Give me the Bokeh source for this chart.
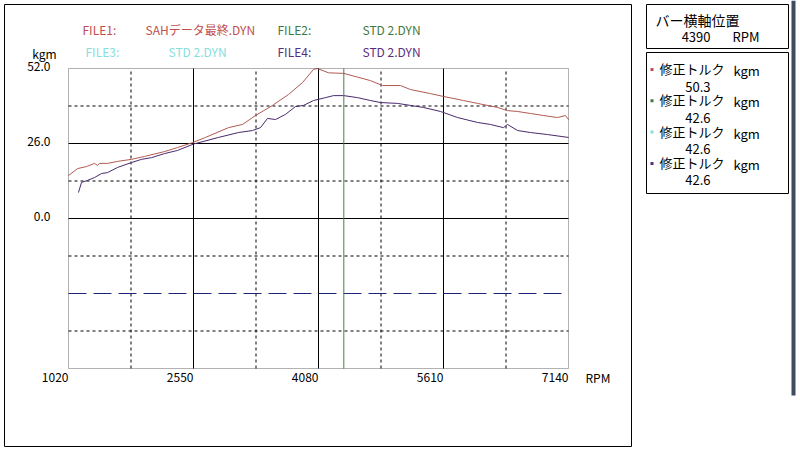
from bokeh.plotting import figure
from bokeh.models import Range1d, Label, BoxAnnotation
from bokeh.core.properties import value
from bokeh.embed import file_html
from bokeh.resources import INLINE

# ---------------- data ----------------
rpm_file1 = [1020, 1130, 1240, 1338, 1375, 1399, 1497, 1620, 1791, 1950, 2195, 2354, 2538,
             2697, 2978, 3150, 3309, 3517, 3713, 3884, 4019, 4068, 4203, 4390, 4716, 4863,
             5084, 5206, 5451, 5610, 5855, 6026, 6271, 6393, 6516, 6675, 6834, 7006, 7103, 7140]
trq_file1 = [14.9, 17.3, 18.0, 19.1, 18.4, 19.1, 19.1, 19.8, 20.5, 21.5, 23.2, 24.6, 26.3,
             28.1, 31.5, 32.6, 35.7, 39.2, 43.0, 47.1, 51.7, 52.0, 50.5, 50.3, 47.8, 46.1,
             46.1, 44.7, 43.3, 42.3, 40.9, 39.9, 38.5, 37.4, 37.1, 36.4, 35.7, 35.0, 35.7, 34.3]

rpm_file4 = [1142, 1179, 1253, 1338, 1424, 1497, 1620, 1791, 1914, 2036, 2195, 2354, 2550,
             2856, 3101, 3272, 3370, 3456, 3554, 3676, 3798, 3896, 4019, 4166, 4264, 4390,
             4557, 4716, 4839, 5047, 5206, 5365, 5573, 5782, 6026, 6185, 6344, 6393, 6516,
             6675, 6883, 7140]
trq_file4 = [9.0, 12.5, 13.2, 14.2, 15.6, 15.9, 17.7, 19.4, 20.5, 21.1, 22.5, 23.6, 25.8,
             28.1, 29.8, 30.5, 31.5, 34.7, 34.3, 36.1, 38.8, 39.2, 40.9, 41.9, 42.6, 42.6,
             41.9, 40.9, 40.2, 39.9, 39.2, 38.5, 37.1, 35.0, 33.3, 32.6, 31.5, 32.6, 30.5,
             29.8, 29.1, 28.1]

x_ticks = [1020, 2550, 4080, 5610, 7140]
x_grid_solid = [2550, 4080, 5610]
x_grid_dash = [1785, 3315, 4845, 6375]
y_ticks = [52, 26, 0]
y_tick_labels = ["52.0", "26.0", "0.0"]
y_grid_solid = [26, 0]
y_grid_dash = [39, 13, -13, -39]
ref_level = -26
cursor_rpm = 4390

file_labels = ["FILE1:", "FILE2:", "FILE3:", "FILE4:"]
file_names = ["SAHデータ最終.DYN", "STD  2.DYN", "STD  2.DYN", "STD  2.DYN"]
readout_name = "修正トルク"
readout_unit = "kgm"
readout_values = ["50.3", "42.6", "42.6", "42.6"]

# ---------------- styles ----------------
FONT = "Noto Sans CJK JP"
C_RED = "#c0504d"
C_RED_LINE = "#b25a52"
C_GREEN = "#3f7a3f"
C_CYAN = "#86dede"
C_PURPLE = "#5b2e80"
C_PURPLE_LINE = "#4a2a6c"
file_colors = [C_RED, C_GREEN, C_CYAN, C_PURPLE]

W, H = 800, 458
X0, X1, Y0, Y1 = 1020, 7140, -52, 52
FL, FT, FW, FH = 68, 68, 500, 300   # chart box position on the page (px)
KX = (X1 - X0) / FW
KY = (Y1 - Y0) / FH


def px(page_x):   # page pixel -> data x
    return X0 + (page_x - FL) * KX


def py(page_y):   # page pixel -> data y
    return Y1 - (page_y - FT) * KY


p = figure(width=W, height=H, output_backend="svg", toolbar_location=None,
           x_range=Range1d(px(0), px(W)), y_range=Range1d(py(H), py(0)),
           min_border=0, min_border_left=0, min_border_right=0,
           min_border_top=0, min_border_bottom=0)
p.axis.visible = False
p.grid.visible = False
p.outline_line_color = None
p.background_fill_color = "white"
p.border_fill_color = "white"

# ---- grid (inside the chart box only) ----
p.segment(x0=x_grid_solid, x1=x_grid_solid, y0=[Y0] * len(x_grid_solid), y1=[Y1] * len(x_grid_solid),
          line_color="black", line_width=1)
p.segment(x0=[X0] * len(y_grid_solid), x1=[X1] * len(y_grid_solid), y0=y_grid_solid, y1=y_grid_solid,
          line_color="black", line_width=1)
p.segment(x0=x_grid_dash, x1=x_grid_dash, y0=[Y0] * len(x_grid_dash), y1=[Y1] * len(x_grid_dash),
          line_color="black", line_width=1, line_dash="3 3")
p.segment(x0=[X0] * len(y_grid_dash), x1=[X1] * len(y_grid_dash), y0=y_grid_dash, y1=y_grid_dash,
          line_color="black", line_width=1, line_dash="3 3")
p.segment(x0=[X0], x1=[X1], y0=[ref_level], y1=[ref_level],
          line_color="#1c2478", line_width=1, line_dash="18 7")

# ---- curves ----
p.line(rpm_file1, trq_file1, line_color=C_RED_LINE, line_width=1)
p.line(rpm_file4, trq_file4, line_color=C_PURPLE_LINE, line_width=1)

# ---- cursor ----
p.segment(x0=[cursor_rpm], x1=[cursor_rpm], y0=[Y0], y1=[Y1], line_color="#4d7d4d", line_width=1)

# ---- chart box outline ----
p.add_layout(BoxAnnotation(left=X0, right=X1, bottom=Y0, top=Y1, fill_alpha=0,
                           line_color="black", line_width=1))

# ---- tick labels ----
p.text(x=x_ticks, y=[py(377)] * len(x_ticks), text=[str(t) for t in x_ticks],
       text_font=value(FONT), text_font_size="12px", text_color="black",
       text_align="right", text_baseline="middle")
p.text(x=[px(50)] * len(y_ticks), y=y_ticks, text=y_tick_labels,
       text_font=value(FONT), text_font_size="12px", text_color="black",
       text_align="right", text_baseline="middle", y_offset=-2)


def lab(x, y, text, color="black", size="12px", align="left"):
    p.add_layout(Label(x=px(x), y=py(y), text=text,
                       text_color=color, text_font=FONT, text_font_size=size,
                       text_baseline="middle", text_align=align))


def box(l, t, r, b, fill=None, line="black"):
    p.add_layout(BoxAnnotation(left=px(l), right=px(r), top=py(t), bottom=py(b),
                               fill_color=fill, fill_alpha=1 if fill else 0,
                               line_color=line, line_width=1, line_alpha=1 if line else 0))


# outer frames
box(4, 4, 631, 446)
box(646, 4, 788, 48)
box(646, 52, 788, 193)
box(791, 0, 795, 395, fill="#3f4b5e", line=None)

# header legend
lab(82, 29, file_labels[0], file_colors[0])
lab(145, 29, file_names[0], file_colors[0])
lab(277, 29, file_labels[1], file_colors[1])
lab(362, 29, file_names[1], file_colors[1])
lab(85, 51, file_labels[2], file_colors[2])
lab(168, 51, file_names[2], file_colors[2])
lab(277, 51, file_labels[3], file_colors[3])
lab(362, 51, file_names[3], file_colors[3])

# axis titles
lab(44, 53, "kgm", align="center")
lab(585, 377, "RPM")

# right panel
lab(655, 19, "バー横軸位置", size="14px")
lab(710, 36, str(cursor_rpm), size="13px", align="right")
lab(732, 36, "RPM", size="13px")
for i in range(4):
    yc = 69 + i * 31.3
    box(650, yc - 1.5, 653, yc + 1.5, fill=file_colors[i], line=None)
    lab(659, yc - 1, readout_name, size="13px")
    lab(733, yc + 1, readout_unit, size="13px")
    lab(710, yc + 17, readout_values[i], size="13px", align="right")

open("out.html", "w").write(file_html(p, INLINE))
